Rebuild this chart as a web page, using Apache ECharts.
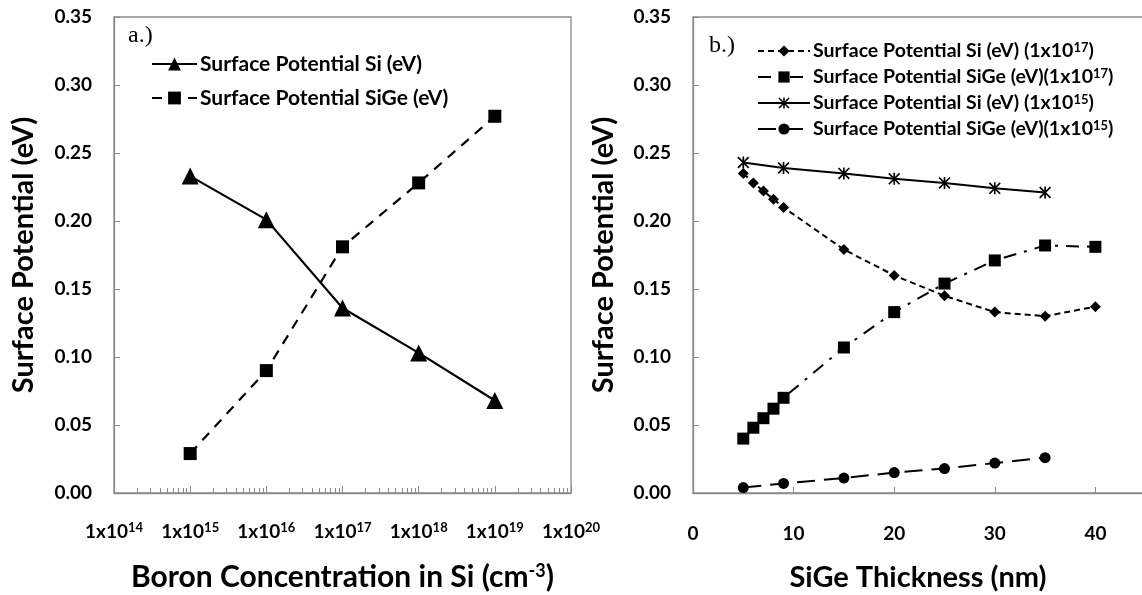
<!DOCTYPE html>
<html>
<head>
<meta charset="utf-8">
<script src="https://cdn.jsdelivr.net/npm/echarts@6/dist/echarts.min.js"></script>
<style>
  html, body { margin: 0; padding: 0; background: #fff; }
  #main { width: 1142px; height: 595px; }
</style>
</head>
<body>
<div id="main"></div>
<script>
// a.) surface potential vs boron concentration
const boron = [1e15, 1e16, 1e17, 1e18, 1e19];
const siA = [0.233, 0.201, 0.136, 0.103, 0.068];
const sigeA = [0.029, 0.090, 0.181, 0.228, 0.277];
const decadeTicks = [1e14, 1e15, 1e16, 1e17, 1e18, 1e19, 1e20];

// b.) surface potential vs SiGe thickness
const thick17 = [5, 6, 7, 8, 9, 15, 20, 25, 30, 35, 40];
const si17 = [0.235, 0.228, 0.222, 0.216, 0.210, 0.179, 0.160, 0.145, 0.133, 0.130, 0.137];
const sige17 = [0.040, 0.048, 0.055, 0.062, 0.070, 0.107, 0.133, 0.154, 0.171, 0.182, 0.181];
const thick15 = [5, 9, 15, 20, 25, 30, 35];
const si15 = [0.243, 0.239, 0.235, 0.231, 0.228, 0.224, 0.221];
const sige15 = [0.004, 0.007, 0.011, 0.015, 0.018, 0.022, 0.026];

const namesB = [
  'Surface Potential Si (eV) (1x10^17)',
  'Surface Potential SiGe (eV)(1x10^17)',
  'Surface Potential Si (eV) (1x10^15)',
  'Surface Potential SiGe (eV)(1x10^15)'
];

// minor log ticks 2..9 in every decade
const minorTicks = [];
for (let e = 14; e < 20; e++) {
  for (let m = 2; m <= 9; m++) minorTicks.push(m * Math.pow(10, e));
}

const FONT = 'Lato';
const AXIS_GRAY = '#8a8a8a';
const STAR = 'path://M4.3 0L5.7 0L5.7 10L4.3 10Z M0 1L1 0L10 9L9 10Z M9 0L10 1L1 10L0 9Z';

function pairs(xs, ys) {
  return xs.map((x, i) => [x, ys[i]]);
}

// "...(1x10^17)" -> "...(1x10{s|17})"
function supText(name) {
  return name.replace(/\^(\d+)/, '{s|$1}');
}

const yAxisBase = {
  type: 'value',
  min: 0,
  max: 0.35,
  interval: 0.05,
  name: 'Surface Potential (eV)',
  nameLocation: 'middle',
  nameGap: 76,
  nameTextStyle: { fontFamily: FONT, fontWeight: 'bold', fontSize: 29, color: '#000' },
  axisLine: { show: true, lineStyle: { color: AXIS_GRAY, width: 1.3 } },
  axisTick: { show: true, inside: true, length: 6, lineStyle: { color: AXIS_GRAY } },
  splitLine: { show: false },
  axisLabel: {
    margin: 22,
    fontFamily: FONT, fontWeight: 'bold', fontSize: 19, color: '#000',
    formatter: v => v.toFixed(2)
  }
};

const richLabel = {
  a: { fontFamily: FONT, fontWeight: 'bold', fontSize: 19, color: '#000', lineHeight: 22 },
  s: { fontFamily: FONT, fontWeight: 'bold', fontSize: 13, color: '#000', verticalAlign: 'top', lineHeight: 14 }
};

var myChart = echarts.init(document.getElementById('main'));

var option = {
  animation: false,
  backgroundColor: '#fff',
  grid: [
    { left: 114, top: 17, width: 457, height: 476, outerBoundsMode: 'none', containLabel: false,
      show: true, borderColor: AXIS_GRAY, borderWidth: 1.3 },
    { left: 693, top: 17, width: 503, height: 476, outerBoundsMode: 'none', containLabel: false,
      show: true, borderColor: AXIS_GRAY, borderWidth: 1.3 }
  ],
  xAxis: [
    {
      gridIndex: 0,
      type: 'log',
      logBase: 10,
      min: 1e14,
      max: 1e20,
      position: 'bottom',
      name: 'Boron Concentration in Si (cm{sup|-3})',
      nameLocation: 'middle',
      nameGap: 69,
      nameTextStyle: {
        fontFamily: FONT, fontWeight: 'bold', fontSize: 30, color: '#000',
        rich: {
          sup: { fontFamily: FONT, fontWeight: 'bold', fontSize: 18, color: '#000', verticalAlign: 'top', lineHeight: 18 }
        }
      },
      axisLine: { show: true, lineStyle: { color: AXIS_GRAY, width: 1.3 } },
      axisTick: { show: true, inside: true, length: 7, customValues: decadeTicks, lineStyle: { color: AXIS_GRAY } },
      splitLine: { show: false },
      axisLabel: {
        margin: 28,
        customValues: decadeTicks,
        showMinLabel: true,
        showMaxLabel: true,
        formatter: v => '{a|1x10}{s|' + Math.round(Math.log10(v)) + '}',
        rich: richLabel
      }
    },
    {
      gridIndex: 0,
      type: 'log',
      logBase: 10,
      min: 1e14,
      max: 1e20,
      position: 'bottom',
      axisLine: { show: false },
      axisTick: { show: true, inside: true, length: 5, customValues: minorTicks, lineStyle: { color: AXIS_GRAY } },
      axisLabel: { show: false },
      splitLine: { show: false }
    },
    {
      gridIndex: 1,
      type: 'value',
      min: 0,
      max: 50,
      interval: 10,
      axisLine: { show: true, lineStyle: { color: AXIS_GRAY, width: 1.3 } },
      axisTick: { show: true, inside: true, length: 6, lineStyle: { color: AXIS_GRAY } },
      splitLine: { show: false },
      axisLabel: { margin: 31, fontFamily: FONT, fontWeight: 'bold', fontSize: 19, color: '#000' }
    }
  ],
  yAxis: [
    Object.assign({ gridIndex: 0 }, yAxisBase),
    Object.assign({ gridIndex: 1 }, yAxisBase, { nameGap: 75 })
  ],
  legend: [
    {
      orient: 'vertical',
      left: 146,
      top: 48,
      itemWidth: 45,
      itemHeight: 16,
      itemGap: 12,
      data: ['Surface Potential Si (eV)', 'Surface Potential SiGe (eV)'],
      textStyle: { fontFamily: FONT, fontWeight: 'bold', fontSize: 21, color: '#000', lineHeight: 22, padding: [0, 0, 0, -2] }
    },
    {
      orient: 'vertical',
      left: 752,
      top: 36,
      itemWidth: 52,
      itemHeight: 14,
      itemGap: 6,
      data: namesB,
      formatter: supText,
      textStyle: {
        fontFamily: FONT, fontWeight: 'bold', fontSize: 19.5, color: '#000', lineHeight: 20,
        padding: [0, 0, 0, -2],
        rich: {
          s: { fontFamily: FONT, fontWeight: 'bold', fontSize: 13, color: '#000', verticalAlign: 'top', lineHeight: 12 }
        }
      }
    }
  ],
  graphic: [
    { type: 'text', left: 128, top: 24, style: { text: 'a.)', font: '24px "Liberation Serif"', fill: '#000' } },
    { type: 'text', left: 709, top: 34, style: { text: 'b.)', font: '24px "Liberation Serif"', fill: '#000' } },
    { type: 'text', x: 918, y: 578, style: { text: 'SiGe Thickness (nm)', font: 'bold 29px Lato', fill: '#000', align: 'center', verticalAlign: 'middle' } }
  ],
  series: [
    {
      name: 'Surface Potential Si (eV)',
      type: 'line',
      xAxisIndex: 0, yAxisIndex: 0,
      data: pairs(boron, siA),
      symbol: 'triangle', symbolSize: 17,
      itemStyle: { color: '#000' },
      lineStyle: { color: '#000', width: 2.2 }
    },
    {
      name: 'Surface Potential SiGe (eV)',
      type: 'line',
      xAxisIndex: 0, yAxisIndex: 0,
      data: pairs(boron, sigeA),
      symbol: 'rect', symbolSize: 13,
      itemStyle: { color: '#000' },
      lineStyle: { color: '#000', width: 2.2, type: [10, 8] }
    },
    {
      name: namesB[0],
      type: 'line',
      xAxisIndex: 2, yAxisIndex: 1,
      data: pairs(thick17, si17),
      symbol: 'diamond', symbolSize: 11,
      itemStyle: { color: '#000' },
      lineStyle: { color: '#000', width: 2, type: [6, 4] }
    },
    {
      name: namesB[1],
      type: 'line',
      xAxisIndex: 2, yAxisIndex: 1,
      data: pairs(thick17, sige17),
      symbol: 'rect', symbolSize: 12,
      itemStyle: { color: '#000' },
      lineStyle: { color: '#000', width: 2, type: [13, 8, 3, 8] }
    },
    {
      name: namesB[2],
      type: 'line',
      xAxisIndex: 2, yAxisIndex: 1,
      data: pairs(thick15, si15),
      symbol: STAR, symbolSize: 12,
      itemStyle: { color: '#000' },
      lineStyle: { color: '#000', width: 2 }
    },
    {
      name: namesB[3],
      type: 'line',
      xAxisIndex: 2, yAxisIndex: 1,
      data: pairs(thick15, sige15),
      symbol: 'circle', symbolSize: 11,
      itemStyle: { color: '#000' },
      lineStyle: { color: '#000', width: 2, type: [18, 9] }
    }
  ]
};

myChart.setOption(option);
</script>
</body>
</html>
